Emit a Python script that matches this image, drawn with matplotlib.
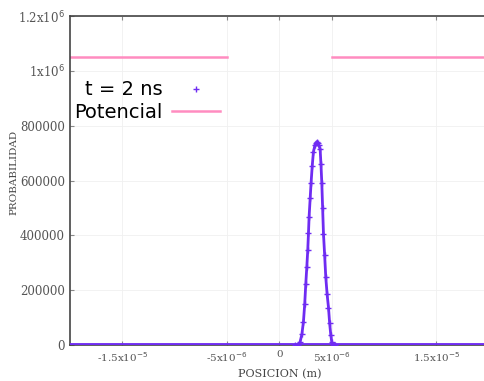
import matplotlib.pyplot as plt
import numpy as np

# paquete de onda a t = 2 ns
pos_pico = [1.5e-6, 1.8e-6, 1.98e-6, 2.15e-6, 2.30e-6, 2.42e-6, 2.52e-6, 2.62e-6, 2.71e-6,
            2.78e-6, 2.84e-6, 2.94e-6, 3.03e-6, 3.14e-6, 3.25e-6, 3.40e-6, 3.50e-6, 3.57e-6,
            3.65e-6, 3.75e-6, 3.89e-6, 3.97e-6, 4.05e-6, 4.13e-6, 4.21e-6, 4.32e-6, 4.43e-6,
            4.56e-6, 4.69e-6, 4.80e-6, 4.91e-6, 5.0e-6, 5.1e-6, 5.3e-6]
prob_pico = [0, 2000, 12000, 40000, 86000, 150000, 222000, 285000, 346000,
             410000, 469000, 535000, 593000, 655000, 704000, 730000, 738000, 741000,
             738000, 730000, 716000, 660000, 593000, 500000, 407000, 330000, 248000,
             185000, 137000, 80000, 37000, 12000, 0, 0]

# potencial: barreras a ambos lados del pozo
pot_x_izq = [-2e-5, -5e-6]
pot_x_der = [5e-6, 2e-5]
pot_v = [1.05e6, 1.05e6]

# fondo: probabilidad nula fuera del paquete
pos_fondo = np.arange(-2e-5, 2e-5, 1.5e-7)
prob_fondo = np.zeros_like(pos_fondo)

xticks = [-1.5e-5, -5e-6, 0, 5e-6, 1.5e-5]
xlabels = ['-1.5x10$^{-5}$', '-5x10$^{-6}$', '0', '5x10$^{-6}$', '1.5x10$^{-5}$']
yticks = [0, 200000, 400000, 600000, 800000, 1e6, 1.2e6]
ylabels = ['0', '200000', '400000', '600000', '800000', '1x10$^6$', '1.2x10$^6$']

morado = '#6f2cf2'
rosa = '#ff8cc0'

fig = plt.figure(figsize=(4.85, 3.81), dpi=100)
ax = fig.add_axes([0.144, 0.094, 0.864, 0.864])

ax.plot(pos_fondo, prob_fondo, color=morado, lw=3.5, zorder=3)
ax.plot(pos_pico, prob_pico, color=morado, lw=2.0, zorder=3)
ax.plot(pos_pico, prob_pico, '+', color=morado, ms=5, mew=1, zorder=3, label='t = 2 ns')
ax.plot(pot_x_izq, pot_v, color=rosa, lw=1.8, label='Potencial')
ax.plot(pot_x_der, pot_v, color=rosa, lw=1.8)

ax.set_xlim(-2e-5, 2e-5)
ax.set_ylim(0, 1.2e6)
ax.set_xticks(xticks)
ax.set_xticklabels(xlabels, fontsize=7.5, color='#555555', family='DejaVu Serif')
ax.set_yticks(yticks)
ax.set_yticklabels(ylabels, fontsize=8.5, color='#555555', family='DejaVu Serif')
ax.tick_params(direction='in', length=3, top=True, right=True, color='#888888')
ax.grid(True, color='#f0f0f0', lw=0.6)
for s in ax.spines.values():
    s.set_color('#444444')
    s.set_linewidth(1.2)

ax.set_xlabel('POSICION (m)', fontsize=8, family='DejaVu Serif', color='#444444', labelpad=4)
ax.set_ylabel('PROBABILIDAD', fontsize=7.5, family='DejaVu Serif', color='#444444')
ax.yaxis.set_label_coords(-0.122, 0.526)

ax.legend(loc='upper left', bbox_to_anchor=(-0.017, 0.84), frameon=False, markerfirst=False,
          fontsize=14, handlelength=2.5, handletextpad=0.45, labelspacing=0.2,
          borderaxespad=0.2)

fig.savefig('out.png', dpi=100)
